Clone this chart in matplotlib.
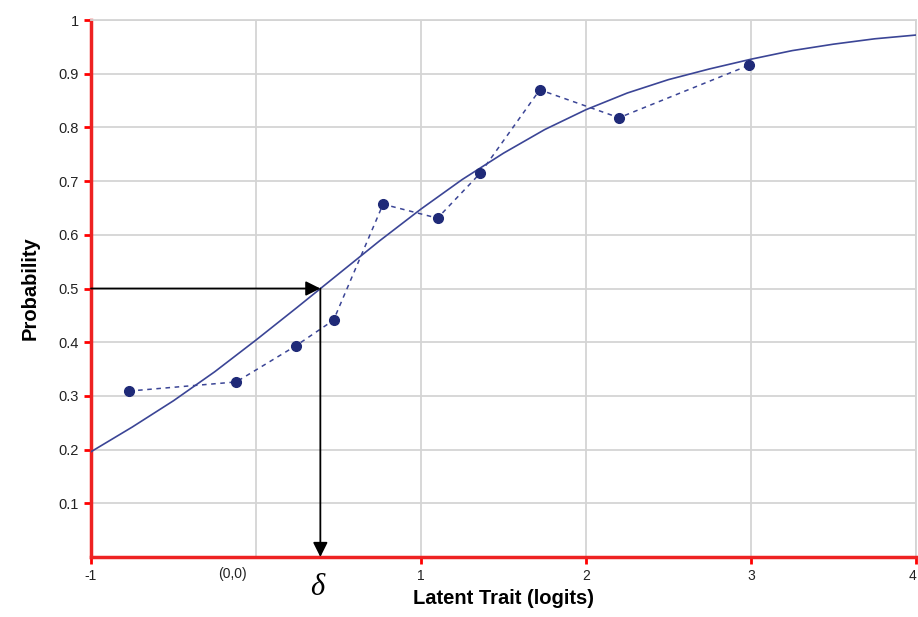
import matplotlib
matplotlib.use("Agg")
import matplotlib.pyplot as plt

plt.rcParams['font.family'] = ['Liberation Sans', 'DejaVu Sans']

# observed proportions (dots, dashed line)
obs_x = [-0.77, -0.12, 0.24, 0.47, 0.77, 1.10, 1.36, 1.72, 2.20, 2.99]
obs_y = [0.309, 0.326, 0.393, 0.441, 0.657, 0.631, 0.715, 0.870, 0.818, 0.916]

# model curve
curve_x = [-1, -0.75, -0.5, -0.25, 0, 0.25, 0.5, 0.75, 1, 1.25, 1.5, 1.75,
           2, 2.25, 2.5, 2.75, 3, 3.25, 3.5, 3.75, 4]
curve_y = [0.196, 0.242, 0.291, 0.345, 0.404, 0.465, 0.527, 0.589, 0.648, 0.703,
           0.752, 0.796, 0.833, 0.864, 0.889, 0.909, 0.927, 0.943, 0.955, 0.965, 0.972]

delta = 0.39
xticks = [-1, 0, 1, 2, 3, 4]
xlabels = ['-1', '', '1', '2', '3', '4']
yticks = [0.1, 0.2, 0.3, 0.4, 0.5, 0.6, 0.7, 0.8, 0.9, 1.0]
ylabels = ['0.1', '0.2', '0.3', '0.4', '0.5', '0.6', '0.7', '0.8', '0.9', '1']

fig = plt.figure(figsize=(9.18, 6.17), dpi=100)
ax = fig.add_axes([91/918, 60/617, 825/918, 537/617])

ax.plot(curve_x, curve_y, color='#3b4596', lw=1.2, zorder=3)
ax.plot(obs_x, obs_y, color='#3b4596', lw=1.1, ls=(0, (3, 3)), zorder=3)
ax.plot(obs_x, obs_y, 'o', color='#1f2a78', ms=7, zorder=4)

# arrows marking the 0.5 point
ax.annotate('', xy=(delta, 0.5), xytext=(-1, 0.5),
            arrowprops=dict(arrowstyle='-|>', color='black', lw=1.3,
                            mutation_scale=22, shrinkA=0, shrinkB=0), zorder=5)
ax.annotate('', xy=(delta, 0.0), xytext=(delta, 0.5),
            arrowprops=dict(arrowstyle='-|>', color='black', lw=1.3,
                            mutation_scale=22, shrinkA=0, shrinkB=0), zorder=5)

ax.set_xlim(-1, 4)
ax.set_ylim(0, 1)
ax.set_xticks(xticks)
ax.set_xticklabels(xlabels, fontsize=10)
ax.set_yticks(yticks)
ax.set_yticklabels(ylabels, fontsize=10.5)
ax.tick_params(axis='both', colors='red', direction='out', length=5, width=2,
               labelcolor='#222222')
ax.tick_params(axis='x', pad=4)
ax.xaxis.get_major_ticks()[1].tick1line.set_visible(False)
ax.get_xticklabels()[-1].set_ha('right')
ax.grid(True, color='#d4d4d4', lw=1.3)
ax.set_axisbelow(True)
for s in ['left', 'bottom']:
    ax.spines[s].set_color('#ee2222')
    ax.spines[s].set_linewidth(2.5)
for s in ['top', 'right']:
    ax.spines[s].set_color('#d4d4d4')
    ax.spines[s].set_linewidth(1.3)

ax.text(-0.14, -0.018, '(0,0)', ha='center', va='top', fontsize=10,
        color='#222222', transform=ax.get_xaxis_transform())
ax.text(delta - 0.02, -0.03, 'δ', ha='center', va='top', fontsize=22,
        family='Liberation Serif', style='italic',
        transform=ax.get_xaxis_transform())

ax.set_xlabel('Latent Trait (logits)', fontsize=14.5, fontweight='bold', labelpad=4)
ax.set_ylabel('Probability', fontsize=14.5, fontweight='bold', labelpad=14)

fig.savefig('out.png', dpi=100)
